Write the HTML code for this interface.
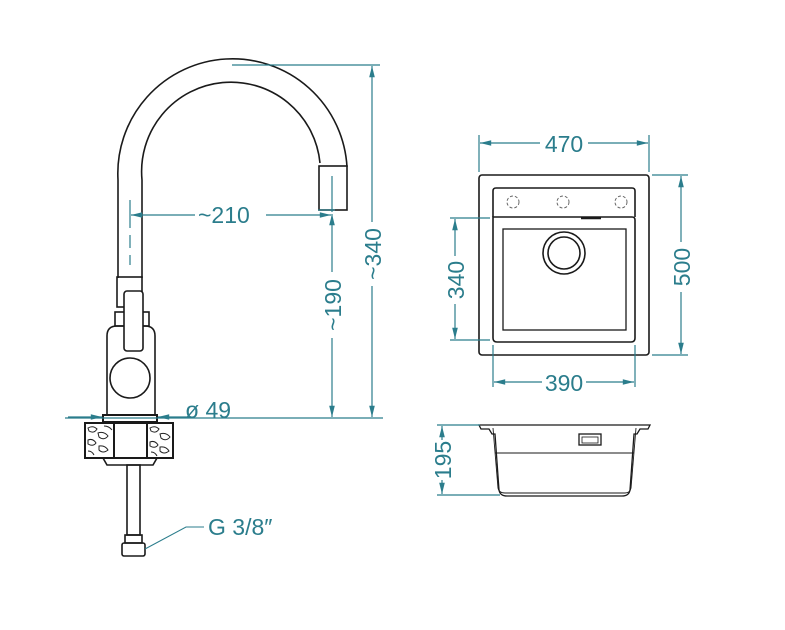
<!DOCTYPE html>
<html><head><meta charset="utf-8"><style>
html,body{margin:0;padding:0;background:#fff;}
svg{display:block;}
text{font-family:"Liberation Sans","DejaVu Sans",sans-serif;fill:#2b7d8c;font-size:23px;}
</style></head><body>
<svg width="785" height="630" viewBox="0 0 785 630" xmlns="http://www.w3.org/2000/svg">
<defs>
<marker id="a" viewBox="0 0 14 10" refX="14" refY="5" markerWidth="14" markerHeight="8" orient="auto-start-reverse" markerUnits="userSpaceOnUse"><path d="M0,1.5 L14,5 L0,8.5 Z" fill="#2b7d8c"/></marker>
</defs>
<g fill="none" stroke="#1a1a1a" stroke-width="1.6">
<path d="M118,278 L118,180 A114,114 0 0 1 347,167"/>
<path d="M142,278 L142,180 A89,89 0 0 1 320,163"/>
<rect x="319" y="166" width="28" height="44" fill="#fff"/>
<rect x="117" y="277" width="25" height="30"/>
<rect x="115" y="312" width="34" height="14"/>
<path d="M107,415 L107,336 Q107,326 117,326 L145,326 Q155,326 155,336 L155,415"/>
<rect x="124" y="291" width="19" height="60" rx="3" fill="#fff"/>
<circle cx="130" cy="378" r="20" fill="#fff"/>
<rect x="103" y="415" width="54" height="7" stroke-width="2"/>
<rect x="85" y="423" width="29" height="35" stroke-width="2"/>
<rect x="147" y="423" width="26" height="35" stroke-width="2"/>
<rect x="114" y="423" width="33" height="35" stroke-width="2"/>
<path d="M103,458 L157,458 L153,465 L107,465 Z"/>
<rect x="127" y="465" width="13" height="70"/>
<rect x="125" y="535" width="17" height="8"/>
<rect x="122" y="543" width="23" height="13" rx="2"/>
</g>
<g fill="none" stroke="#222" stroke-width="1">
<path d="M88,428 q5,-3 9,1 q-3,5 -8,2z M98,433 q6,-2 10,3 q-4,5 -9,1z M88,440 q5,-2 8,3 q-3,4 -8,1z M99,446 q6,-1 9,4 q-5,4 -9,0z M88,451 q4,0 6,4 M104,426 q5,0 8,4"/>
<path d="M150,428 q5,-3 9,1 q-3,5 -8,2z M160,434 q6,-2 10,3 q-4,5 -9,1z M150,442 q5,-2 8,3 q-3,4 -8,1z M160,447 q6,-1 9,4 q-5,4 -9,0z M151,452 q4,0 6,4"/>
</g>
<g stroke="#2b7d8c" stroke-width="1.2" fill="none">
<line x1="232" y1="65" x2="380" y2="65"/>
<line x1="65" y1="418" x2="383" y2="418"/>
<line x1="372" y1="66" x2="372" y2="222" marker-start="url(#a)"/>
<line x1="372" y1="286" x2="372" y2="417" marker-end="url(#a)"/>
<line x1="332" y1="176" x2="332" y2="212"/>
<line x1="332" y1="214" x2="332" y2="272" marker-start="url(#a)"/>
<line x1="332" y1="338" x2="332" y2="417" marker-end="url(#a)"/>
<line x1="130" y1="200" x2="130" y2="228"/>
<line x1="130" y1="235" x2="130" y2="248"/>
<line x1="130" y1="255" x2="130" y2="265"/>
<line x1="131" y1="215" x2="195" y2="215" marker-start="url(#a)"/>
<line x1="266" y1="215" x2="331" y2="215" marker-end="url(#a)"/>
<line x1="318" y1="210" x2="335" y2="210"/>
<line x1="68" y1="417" x2="102" y2="417" marker-end="url(#a)"/>
<line x1="190" y1="417" x2="158" y2="417" marker-end="url(#a)"/>
<polyline points="145,549 186,527 204,527" stroke-width="1"/>
</g>
<text x="198" y="223">~210</text>
<text x="185" y="418">ø 49</text>
<text x="208" y="535">G 3/8″</text>
<text transform="translate(341,305) rotate(-90)" text-anchor="middle">~190</text>
<text transform="translate(381,254) rotate(-90)" text-anchor="middle">~340</text>
<g fill="none" stroke="#1a1a1a" stroke-width="1.6">
<rect x="479" y="175" width="170" height="180" rx="3"/>
<path d="M493,217 L493,191 Q493,188 496,188 L632,188 Q635,188 635,191 L635,217"/>
<path d="M493,217 L632,217 Q635,217 635,220 L635,338 Q635,342 631,342 L497,342 Q493,342 493,338 Z"/>
<rect x="503" y="229" width="123" height="101" stroke-width="1.3"/>
<circle cx="564" cy="253" r="21"/>
<circle cx="564" cy="253" r="16"/>
<line x1="581" y1="218" x2="601" y2="218" stroke-width="2.5"/>
</g>
<g fill="none" stroke="#666" stroke-width="1" stroke-dasharray="3,2">
<circle cx="513" cy="202" r="6"/><circle cx="563" cy="202" r="6"/><circle cx="621" cy="202" r="6"/>
</g>
<g fill="none" stroke="#1a1a1a" stroke-width="1.3">
<path d="M479,425 L650,425 L648,429 L640,429 L637,434 L634,434 L630,490 Q629,496 622,496 L507,496 Q500,496 499,490 L495,434 L492,434 L489,429 L481,429 Z"/>
<path d="M493,428 L498,488 Q499,493 505,493 L625,493 Q630,493 631,488 L636,428" stroke-width="0.9"/>
<line x1="495" y1="453" x2="634" y2="453" stroke-width="1"/>
<rect x="579" y="434" width="22" height="11" stroke-width="1.3"/>
<rect x="582" y="437" width="16" height="6" stroke-width="0.8"/>
</g>
<g stroke="#2b7d8c" stroke-width="1.2" fill="none">
<line x1="479" y1="135" x2="479" y2="172"/>
<line x1="649" y1="135" x2="649" y2="172"/>
<line x1="480" y1="143" x2="540" y2="143" marker-start="url(#a)"/>
<line x1="588" y1="143" x2="648" y2="143" marker-end="url(#a)"/>
<line x1="652" y1="175" x2="688" y2="175"/>
<line x1="652" y1="355" x2="688" y2="355"/>
<line x1="681" y1="176" x2="681" y2="242" marker-start="url(#a)"/>
<line x1="681" y1="292" x2="681" y2="354" marker-end="url(#a)"/>
<line x1="450" y1="218" x2="490" y2="218"/>
<line x1="450" y1="340" x2="490" y2="340"/>
<line x1="455" y1="219" x2="455" y2="256" marker-start="url(#a)"/>
<line x1="455" y1="304" x2="455" y2="339" marker-end="url(#a)"/>
<line x1="493" y1="345" x2="493" y2="387"/>
<line x1="635" y1="345" x2="635" y2="387"/>
<line x1="494" y1="382" x2="542" y2="382" marker-start="url(#a)"/>
<line x1="586" y1="382" x2="634" y2="382" marker-end="url(#a)"/>
<line x1="437" y1="425" x2="480" y2="425"/>
<line x1="437" y1="495" x2="500" y2="495"/>
<line x1="442" y1="426" x2="442" y2="440" marker-start="url(#a)"/>
<line x1="442" y1="480" x2="442" y2="494" marker-end="url(#a)"/>
</g>
<text x="564" y="152" text-anchor="middle">470</text>
<text x="564" y="391" text-anchor="middle">390</text>
<text transform="translate(690,267) rotate(-90)" text-anchor="middle">500</text>
<text transform="translate(464,280) rotate(-90)" text-anchor="middle">340</text>
<text transform="translate(451,460) rotate(-90)" text-anchor="middle">195</text>
</svg>
</body></html>
